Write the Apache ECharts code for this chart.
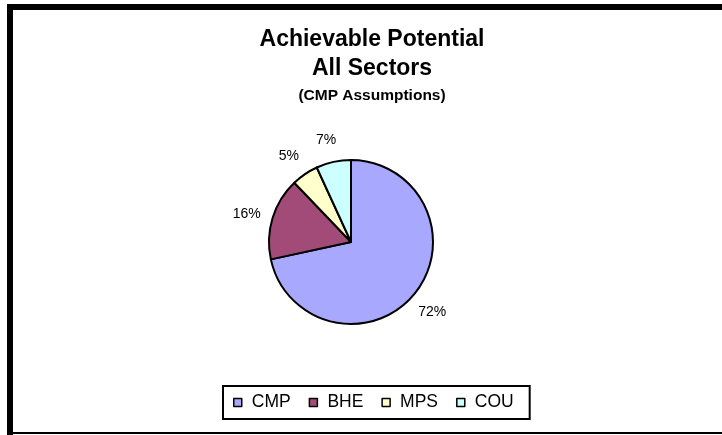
<!DOCTYPE html>
<html>
<head>
<meta charset="utf-8">
<script src="https://cdn.jsdelivr.net/npm/echarts@6/dist/echarts.min.js"></script>
<style>
html,body{margin:0;padding:0;background:#fff;}
#chart{width:722px;height:435px;}
</style>
</head>
<body>
<div id="chart"></div>
<script>
var categories = ['CMP', 'BHE', 'MPS', 'COU'];
var values = [71.6, 16.25, 5.3, 6.85];
var colors = ['#A8A8FF', '#A34B78', '#FFFFCC', '#CCFFFF'];

var FONT = '"Liberation Sans", Arial, Helvetica, sans-serif';
var chart = echarts.init(document.getElementById('chart'), null, {renderer: 'canvas'});

var pieData = categories.map(function (c, i) {
  return {name: c, value: values[i], itemStyle: {color: colors[i]}};
});
var labelData = categories.map(function (c, i) {
  return {name: c, value: values[i]};
});
var total = values.reduce(function (a, b) { return a + b; }, 0);

chart.setOption({
  animation: false,
  backgroundColor: '#fff',
  graphic: [
    {type: 'rect', shape: {x: 7, y: 4, width: 715, height: 6}, style: {fill: '#000'}, silent: true},
    {type: 'rect', shape: {x: 7, y: 4, width: 6, height: 431}, style: {fill: '#000'}, silent: true},
    {type: 'rect', shape: {x: 7, y: 432, width: 715, height: 2}, style: {fill: '#000'}, silent: true}
  ],
  title: {
    text: 'Achievable Potential\nAll Sectors',
    subtext: '(CMP Assumptions)',
    left: 372,
    top: 25,
    textAlign: 'center',
    padding: 0,
    itemGap: 5,
    textStyle: {fontFamily: FONT, fontSize: 23, fontWeight: 'bold', color: '#000', lineHeight: 29},
    subtextStyle: {fontFamily: FONT, fontSize: 15.5, fontWeight: 'bold', color: '#000', lineHeight: 16}
  },
  legend: {
    data: categories,
    orient: 'horizontal',
    left: 223,
    top: 386,
    icon: 'rect',
    itemWidth: 8,
    itemHeight: 8,
    itemGap: 18,
    padding: [7, 16, 7, 10],
    borderColor: '#000',
    borderWidth: 2,
    backgroundColor: '#fff',
    itemStyle: {borderColor: '#000', borderWidth: 1.5},
    textStyle: {fontFamily: FONT, fontSize: 17.5, color: '#000', padding: [0, 0, 0, 5], lineHeight: 19}
  },
  series: [
    {
      type: 'pie',
      name: 'Achievable Potential',
      center: [351, 242],
      radius: [0, 82],
      startAngle: 90,
      clockwise: true,
      avoidLabelOverlap: false,
      silent: true,
      label: {show: false},
      labelLine: {show: false},
      itemStyle: {borderColor: '#000', borderWidth: 2},
      emphasis: {disabled: true},
      data: pieData
    },
    {
      type: 'pie',
      name: 'labels',
      center: [351, 242],
      radius: [93, 115],
      startAngle: 90,
      clockwise: true,
      avoidLabelOverlap: false,
      silent: true,
      itemStyle: {color: 'rgba(0,0,0,0)', borderWidth: 0},
      emphasis: {disabled: true},
      label: {
        show: true,
        position: 'inside',
        fontFamily: FONT,
        fontSize: 14,
        color: '#000',
        offset: [-2, 3],
        formatter: function (p) { return Math.round(p.value / total * 100) + '%'; }
      },
      labelLine: {show: false},
      data: labelData
    }
  ]
});
</script>
</body>
</html>
